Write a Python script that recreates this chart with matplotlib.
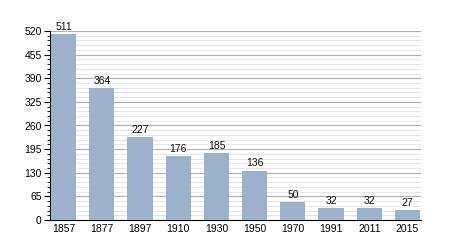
import matplotlib
matplotlib.use("Agg")
import matplotlib.pyplot as plt
from matplotlib.ticker import MultipleLocator

years = ["1857", "1877", "1897", "1910", "1930", "1950", "1970", "1991", "2011", "2015"]
values = [511, 364, 227, 176, 185, 136, 50, 32, 32, 27]
yticks = [0, 65, 130, 195, 260, 325, 390, 455, 520]

plt.rcParams['font.family'] = ['Liberation Sans', 'DejaVu Sans']
fig = plt.figure(figsize=(4.5, 2.5), dpi=100)
ax = fig.add_axes([0.111, 0.12, 0.825, 0.756])

x = list(range(len(years)))
ax.bar(x, values, width=0.66, color="#9bb1cc", zorder=3)
for xi, v in zip(x, values):
    ax.text(xi, v + 6, str(v), ha="center", va="bottom", fontsize=7.5, color="#111111", zorder=4)

ax.set_xlim(-0.36, 9.36)
ax.set_ylim(0, 520)
ax.set_yticks(yticks)
ax.yaxis.set_minor_locator(MultipleLocator(13))
ax.set_xticks(x)
ax.set_xticklabels(years)
ax.grid(axis="y", which="major", color="#b0b0b0", linewidth=0.8, zorder=0)
ax.grid(axis="y", which="minor", color="#e2e2e2", linewidth=0.6, zorder=0)
for s in ["top", "right"]:
    ax.spines[s].set_visible(False)
ax.spines["left"].set_color("black")
ax.spines["bottom"].set_color("black")
ax.tick_params(axis="y", which="major", length=4, labelsize=7.5, pad=2)
ax.tick_params(axis="y", which="minor", length=2)
ax.tick_params(axis="x", length=0, labelsize=7.5, pad=3)

fig.savefig("out.png", dpi=100)
